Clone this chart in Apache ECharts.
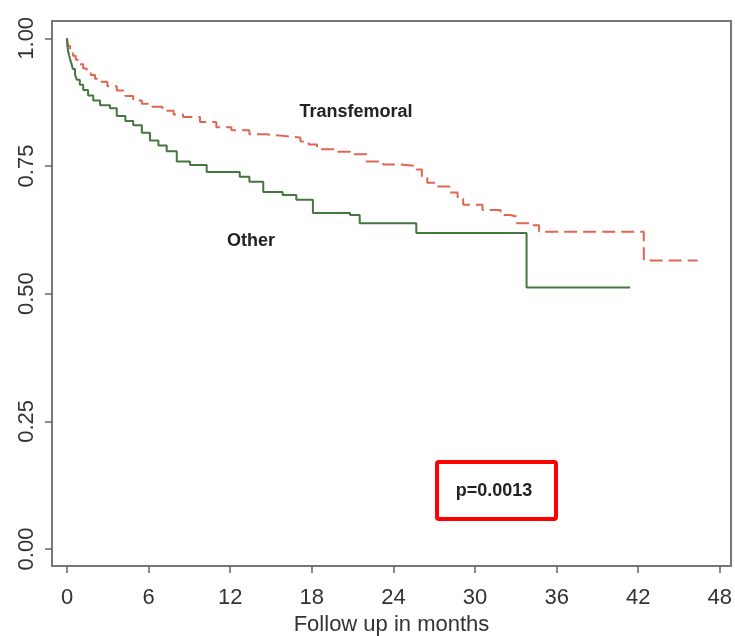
<!DOCTYPE html>
<html><head><meta charset="utf-8">
<script src="https://cdn.jsdelivr.net/npm/echarts@6/dist/echarts.min.js"></script>
<style>html,body{margin:0;padding:0;background:#fff}#c{width:735px;height:636px}</style>
</head><body><div id="c"></div>
<script>
const xTicks = [0, 6, 12, 18, 24, 30, 36, 42, 48];
const yTicks = [0, 0.25, 0.5, 0.75, 1];
const transfemoralT = [0,0.08,0.23,0.43,0.64,0.89,1.19,1.45,1.75,2.06,2.43,2.97,3.66,4.29,4.87,5.50,6.10,7.02,7.84,8.53,9.78,10.98,12.09,13.41,14.63,15.85,17.16,17.77,18.38,19.70,20.81,22.03,23.25,24.46,25.68,26.09,26.49,27.20,28.11,28.72,29.13,30.55,31.87,32.58,33.08,34.30,34.71,42.41,46.37];
const transfemoralS = [1.0,0.985,0.975,0.966,0.958,0.949,0.941,0.934,0.928,0.921,0.915,0.906,0.898,0.887,0.878,0.872,0.866,0.858,0.851,0.846,0.836,0.826,0.82,0.812,0.809,0.806,0.798,0.792,0.783,0.778,0.773,0.759,0.753,0.750,0.743,0.73,0.717,0.710,0.698,0.686,0.674,0.664,0.654,0.651,0.638,0.634,0.621,0.565,0.565];
const otherT = [0,0.03,0.08,0.15,0.22,0.33,0.43,0.59,0.72,0.94,1.19,1.55,1.93,2.43,3.16,3.66,4.29,4.87,5.50,6.10,6.72,7.33,8.07,9.05,10.27,12.70,13.41,14.43,15.85,16.86,18.08,20.81,21.52,25.68,33.79,41.40];
const otherS = [1.0,0.985,0.975,0.967,0.960,0.95,0.94,0.929,0.919,0.909,0.899,0.888,0.878,0.869,0.863,0.848,0.838,0.830,0.815,0.800,0.79,0.779,0.759,0.752,0.738,0.729,0.719,0.699,0.693,0.684,0.658,0.654,0.638,0.619,0.512,0.512];

const chart = echarts.init(document.getElementById('c'), null, {renderer: 'canvas'});
const zip = (a, b) => a.map((v, i) => [v, b[i]]);
const font = '"Liberation Sans", Arial, sans-serif';
chart.setOption({
  backgroundColor: '#fff',
  animation: false,
  grid: {left: 52, right: 4, top: 21, bottom: 70, show: true, borderColor: '#777', borderWidth: 2,
         backgroundColor: 'transparent', outerBoundsMode: 'none', containLabel: false},
  xAxis: {
    type: 'value', min: -1.103, max: 48.82,
    axisLine: {show: false, onZero: false},
    axisTick: {show: true, length: 7, customValues: xTicks, lineStyle: {color: '#666', width: 1.5}},
    axisLabel: {margin: 21, fontSize: 22, color: '#333', fontFamily: font, customValues: xTicks},
    splitLine: {show: false},
    name: 'Follow up in months', nameLocation: 'middle', nameGap: 44,
    nameTextStyle: {fontSize: 22, color: '#333', fontFamily: font}
  },
  yAxis: {
    type: 'value', min: -0.0333, max: 1.0339,
    axisLine: {show: false, onZero: false},
    axisTick: {show: true, length: 7, customValues: yTicks, lineStyle: {color: '#666', width: 1.5}},
    axisLabel: {margin: 14, fontSize: 22, color: '#333', fontFamily: font, rotate: 90, customValues: yTicks,
      formatter: v => v.toFixed(2)},
    splitLine: {show: false}
  },
  series: [
    {name: 'Transfemoral', type: 'line', step: 'end', showSymbol: false,
     data: zip(transfemoralT, transfemoralS),
     lineStyle: {color: '#e06652', width: 2, type: [13, 6]}},
    {name: 'Other', type: 'line', step: 'end', showSymbol: false,
     data: zip(otherT, otherS),
     lineStyle: {color: '#46763f', width: 2}}
  ],
  graphic: [
    {type: 'text', x: 356, y: 112, style: {text: 'Transfemoral', font: 'bold 18px ' + font, fill: '#222', textAlign: 'center', textVerticalAlign: 'middle'}},
    {type: 'text', x: 251, y: 241, style: {text: 'Other', font: 'bold 18px ' + font, fill: '#222', textAlign: 'center', textVerticalAlign: 'middle'}},
    {type: 'text', x: 494, y: 491, style: {text: 'p=0.0013', font: 'bold 18px ' + font, fill: '#222', textAlign: 'center', textVerticalAlign: 'middle'}},
    {type: 'rect', shape: {x: 437, y: 462, width: 119, height: 57, r: 2},
     style: {fill: null, stroke: '#f00', lineWidth: 4}}
  ]
});
</script></body></html>
